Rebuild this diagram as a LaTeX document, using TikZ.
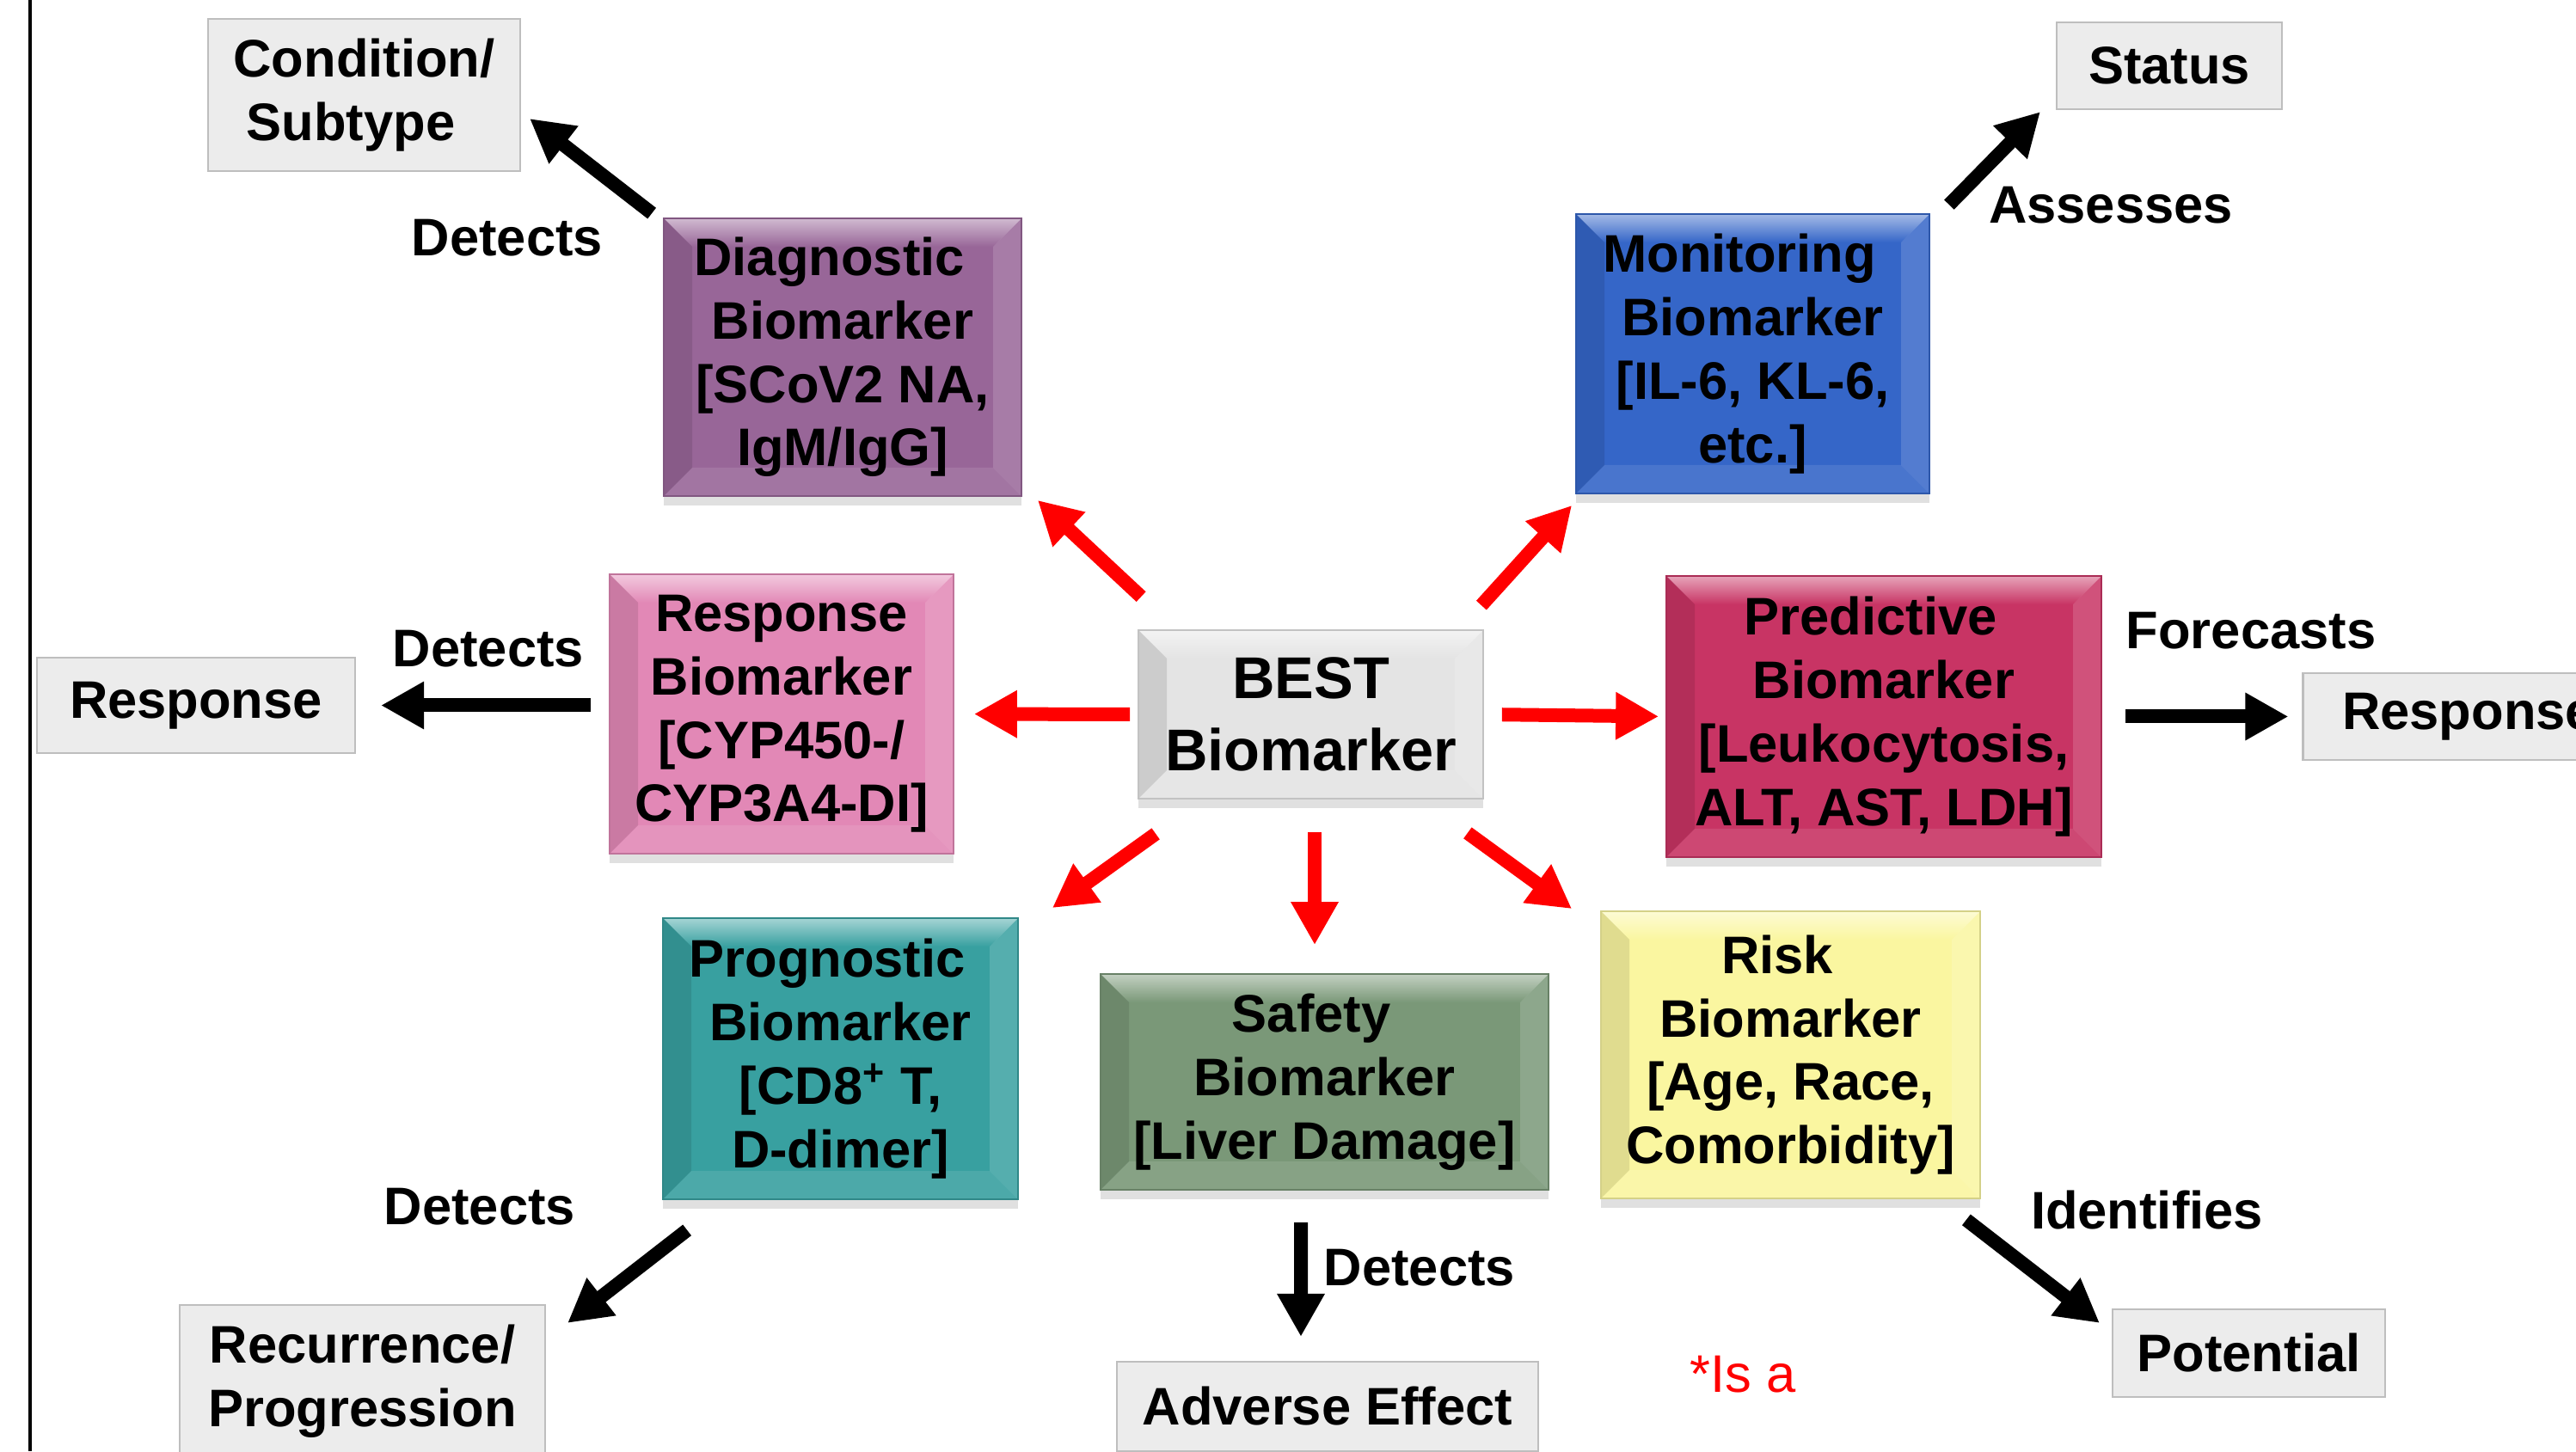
\documentclass[tikz,border=0pt]{standalone}
\usepackage{fontspec}
\setmainfont{Liberation Sans}
\usetikzlibrary{arrows.meta, shadows}

\definecolor{diagc}{RGB}{152,102,152}
\definecolor{monc}{RGB}{53,102,200}
\definecolor{respc}{RGB}{226,136,182}
\definecolor{predc}{RGB}{200,52,100}
\definecolor{progc}{RGB}{56,160,160}
\definecolor{safec}{RGB}{122,152,120}
\definecolor{riskc}{RGB}{250,246,160}
\definecolor{bestc}{RGB}{228,228,228}
\definecolor{outc}{RGB}{236,236,236}
\definecolor{outd}{RGB}{190,190,190}

\newcommand{\bw}{0.33cm}
\newcommand{\bfnt}{\fontsize{17.5}{21}\selectfont\bfseries}

\tikzset{
  bm/.style={fill=#1, draw=#1!85!black, line width=0.5pt, inner sep=0pt, align=center, font=\bfnt,
    drop shadow={shadow xshift=0pt, shadow yshift=-3pt, opacity=0.12, fill=black},
    path picture={
      \path (path picture bounding box.north west) coordinate (nw)
            (path picture bounding box.north east) coordinate (ne)
            (path picture bounding box.south west) coordinate (sw)
            (path picture bounding box.south east) coordinate (se);
      \shade[top color=#1!45!white, bottom color=#1] (nw) -- (ne) -- ([shift={(-\bw,-\bw)}]ne) -- ([shift={(\bw,-\bw)}]nw) -- cycle;
      \fill[black, opacity=0.1] (nw) -- ([shift={(\bw,-\bw)}]nw) -- ([shift={(\bw,\bw)}]sw) -- (sw) -- cycle;
      \fill[white, opacity=0.15] (ne) -- ([shift={(-\bw,-\bw)}]ne) -- ([shift={(-\bw,\bw)}]se) -- (se) -- cycle;
      \fill[white, opacity=0.1] (sw) -- ([shift={(\bw,\bw)}]sw) -- ([shift={(-\bw,\bw)}]se) -- (se) -- cycle;
    }},
}

\begin{document}
\begin{tikzpicture}
	\tikzset{
		ob/.style={fill=outc, draw=outd, line width=0.6pt, inner sep=0pt, align=center, font=\bfnt},
		lbl/.style={font=\bfnt},
		rar/.style={red, line width=0.16cm, -{Triangle[length=0.5cm,width=0.52cm]}},
		bar/.style={black, line width=0.16cm, -{Triangle[length=0.5cm,width=0.52cm]}}
	}
	\useasboundingbox (0,0) rectangle (29.96,16.88);
	\draw[line width=1pt] (0.35,0) -- (0.35,16.88);

	\node[bm=bestc, minimum width=4.01cm, minimum height=1.96cm, font=\fontsize{19.5}{23.8}\selectfont\bfseries] (best) at (15.245,8.57) {BEST\\Biomarker};
	\node[bm=diagc, minimum width=4.16cm, minimum height=3.23cm] (diag) at (9.80,12.725) {Diagnostic\hspace*{.5em}\\Biomarker\\{[}SCoV2 NA,\\IgM/IgG{]}};
	\node[bm=monc, minimum width=4.11cm, minimum height=3.25cm] (mon) at (20.385,12.765) {Monitoring\hspace*{.5em}\\Biomarker\\{[}IL-6, KL-6,\\etc.{]}};
	\node[bm=respc, minimum width=4.00cm, minimum height=3.25cm] (resp) at (9.09,8.575) {Response\\Biomarker\\{[}CYP450-/\\CYP3A4-DI{]}};
	\node[bm=predc, minimum width=5.06cm, minimum height=3.27cm] (pred) at (21.91,8.545) {Predictive\hspace*{.5em}\\Biomarker\\{[}Leukocytosis,\\ALT, AST, LDH{]}};
	\node[bm=progc, minimum width=4.13cm, minimum height=3.27cm] (prog) at (9.775,4.565) {Prognostic\hspace*{.5em}\\Biomarker\\{[}CD8\textsuperscript{+} T,\\D-dimer{]}};
	\node[bm=safec, minimum width=5.21cm, minimum height=2.51cm] (safe) at (15.405,4.295) {Safety\hspace*{.5em}\\Biomarker\\{[}Liver Damage{]}};
	\node[bm=riskc, minimum width=4.41cm, minimum height=3.34cm] (risk) at (20.825,4.61) {Risk\hspace*{.5em}\\Biomarker\\{[}Age, Race,\\Comorbidity{]}};

	\node[ob, minimum width=3.63cm, minimum height=1.77cm] (cond) at (4.235,15.775) {Condition/\\Subtype\hspace*{.5em}};
	\node[ob, minimum width=2.62cm, minimum height=1.01cm] (status) at (25.23,16.115) {Status};
	\node[ob, minimum width=3.70cm, minimum height=1.11cm] (respL) at (2.28,8.675) {Response};
	\node[ob, minimum width=3.85cm, minimum height=1.01cm] (respR) at (28.71,8.545) {Response};
	\node[ob, minimum width=4.25cm, minimum height=1.77cm] (recur) at (4.215,0.815) {Recurrence/\\Progression};
	\node[ob, minimum width=4.90cm, minimum height=1.04cm] (adverse) at (15.44,0.52) {Adverse Effect};
	\node[ob, minimum width=3.17cm, minimum height=1.02cm] (potential) at (26.155,1.14) {Potential};

	\node[lbl] (dt1) at (5.90,14.11) {Detects};
	\node[lbl] (as) at (24.55,14.49) {Assesses};
	\node[lbl] (dt2) at (5.68,9.33) {Detects};
	\node[lbl] (fc) at (26.18,9.54) {Forecasts};
	\node[lbl] (dt3) at (5.58,2.84) {Detects};
	\node[lbl] (dt4) at (16.51,2.13) {Detects};
	\node[lbl] (idf) at (24.97,2.80) {Identifies};
	\node[red, font=\fontsize{17.5}{21}\selectfont] (isa) at (20.27,0.89) {*Is a};

	\draw[rar] ([shift={(0.04,0.38)}]best.north west) -- ([shift={(0.18,-0.04)}]diag.south east);
	\draw[rar] ([shift={(-0.03,0.28)}]best.north east) -- ([shift={(-0.04,-0.13)}]mon.south west);
	\draw[rar, shorten <=0.09cm, shorten >=0.23cm] (best.west) -- (resp.east);
	\draw[rar, shorten <=0.21cm, shorten >=0.08cm] (best.east) -- (pred.west);
	\draw[rar] ([shift={(0.21,-0.40)}]best.south west) -- ([shift={(0.39,0.11)}]prog.north east);
	\draw[rar] ([shift={(0.045,-0.38)}]best.south) -- ([shift={(-0.115,0.33)}]safe.north);
	\draw[rar] ([shift={(-0.19,-0.39)}]best.south east) -- ([shift={(-0.33,0.02)}]risk.north west);

	\draw[bar] ([shift={(-0.13,0.05)}]diag.north west) -- ([shift={(0.10,-0.275)}]cond.east);
	\draw[bar] ([shift={(0.22,0.10)}]mon.north east) -- ([shift={(-0.18,-0.02)}]status.south west);
	\draw[bar, shorten <=0.21cm, shorten >=0.29cm] (resp.west |- respL.east) -- (respL.east);
	\draw[bar, shorten <=0.27cm, shorten >=0.16cm] (pred.east) -- (respR.west);
	\draw[bar] ([shift={(0.29,-0.35)}]prog.south west) -- ([shift={(0.25,-0.22)}]recur.north east);
	\draw[bar] ([shift={(-0.275,-0.37)}]safe.south) -- ([shift={(-0.31,0.28)}]adverse.north);
	\draw[bar] ([shift={(-0.17,-0.24)}]risk.south east) -- ([shift={(-0.14,-0.17)}]potential.north west);
\end{tikzpicture}
\end{document}
